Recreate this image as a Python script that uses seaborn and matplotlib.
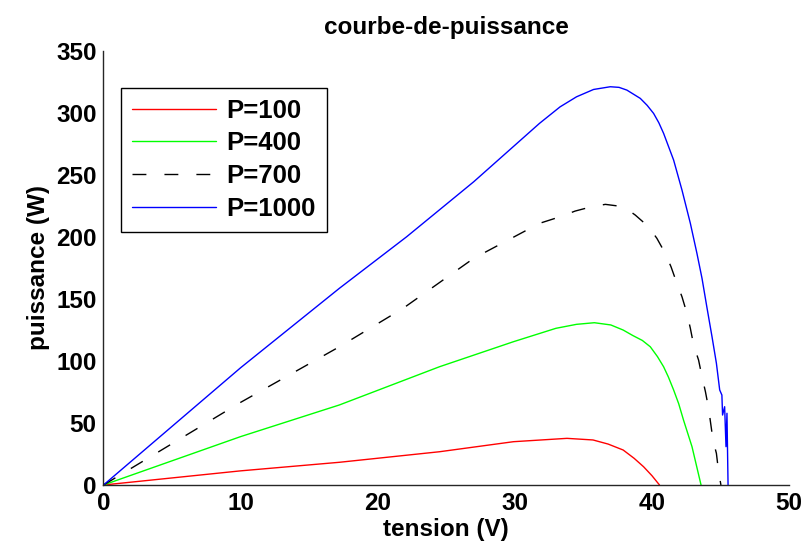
import matplotlib
matplotlib.use("Agg")
import matplotlib.pyplot as plt
import seaborn as sns
import pandas as pd

# values (tension V, puissance W)
v_100 = [0, 10, 17.2, 24.5, 29.9, 33.8, 35.7, 36.8, 37.9, 38.7, 39.39, 40.0, 40.55]
p_100 = [0, 11.4, 18.3, 26.8, 34.9, 37.6, 36.3, 33.0, 28.2, 21.5, 14.7, 7.5, 0]

v_400 = [0, 10, 17.2, 24.5, 29.9, 33.0, 34.5, 35.8, 37.0, 37.9, 38.6, 39.3, 39.88, 40.4, 40.85,
         41.2, 41.58, 41.95, 42.3, 42.6, 42.92, 43.58]
p_400 = [0, 39, 64.5, 95.3, 115.5, 126.3, 129.5, 130.8, 129.0, 124.9, 120.5, 116.5, 111.4, 103.5, 95.3,
         87.0, 76.6, 65.5, 52.4, 42.0, 30.9, 0]

v_700 = [0, 10, 17.2, 21.85, 27.0, 31.8, 33.3, 34.4, 35.5, 36.6, 37.93, 38.78, 39.75, 40.36, 40.97,
         41.39, 41.82, 42.19, 42.55, 42.8, 43.04, 43.4, 43.65, 43.9, 44.13, 44.45, 44.7, 44.86, 45.03]
p_700 = [0, 66.6, 111.4, 142.4, 182.7, 210.9, 216.2, 220.8, 224.0, 226.2, 224.3, 217.6, 208.2, 198.8, 186.7,
         175.9, 162.5, 151.7, 138.4, 126.3, 112.8, 100.7, 87.3, 75.2, 61.8, 36.3, 25.5, 10.7, 0]

v_1000 = [0, 10, 17.2, 22.1, 27.0, 31.8, 33.3, 34.5, 35.74, 36.96, 37.6, 38.17, 39.15, 39.65, 40.12, 40.5,
          40.85, 41.58, 42.19, 42.8, 43.28, 43.65, 44.0, 44.38, 44.7, 44.94, 45.1, 45.15, 45.3, 45.4,
          45.47, 45.55]
p_1000 = [0, 94.5, 158.5, 200, 244.4, 291.5, 304.8, 312.9, 318.8, 321, 320.5, 318.3, 311.6, 306.0, 299.5, 292.0,
          283.4, 261.9, 237.7, 210.9, 186.7, 166.6, 143.7, 119.5, 98.1, 76.6, 72.5, 56.4, 63.1, 30.9,
          57.8, 0]

labels = ["P=100", "P=400", "P=700", "P=1000"]
colors = ["#ff0000", "#00ff00", "#000000", "#0000ff"]
styles = ["-", "-", (0, (10, 13)), "-"]

x_ticks = [0, 10, 20, 30, 40, 50]
y_ticks = [0, 50, 100, 150, 200, 250, 300, 350]

sns.set_style("white")
plt.rcParams["font.family"] = ["Liberation Sans", "DejaVu Sans"]
plt.rcParams["font.weight"] = "bold"
plt.rcParams["text.color"] = "black"
plt.rcParams["axes.labelcolor"] = "black"
fs = 17.5

fig = plt.figure(figsize=(8.06, 5.56), dpi=100)
ax = fig.add_axes([0.1284, 0.1277, 0.8506, 0.781])

for v, p, label, color, ls in zip([v_100, v_400, v_700, v_1000],
                                  [p_100, p_400, p_700, p_1000],
                                  labels, colors, styles):
    df = pd.DataFrame({"tension": v, "puissance": p})
    sns.lineplot(data=df, x="tension", y="puissance", ax=ax, color=color,
                 linestyle=ls, linewidth=1.0, label=label,
                 estimator=None, sort=False)

ax.set_xlim(0, 50)
ax.set_ylim(0, 350)
ax.set_xticks(x_ticks)
ax.set_yticks(y_ticks)
ax.tick_params(direction="in", length=5, width=1, colors="#262626",
               labelcolor="black", labelsize=fs, pad=5)
for s in ["top", "right"]:
    ax.spines[s].set_visible(False)
for s in ["left", "bottom"]:
    ax.spines[s].set_color("#262626")
    ax.spines[s].set_linewidth(1.0)

ax.set_title("courbe-de-puissance", fontsize=fs, fontweight="bold", pad=12, color="black")
ax.set_xlabel("tension (V)", fontsize=fs, fontweight="bold", labelpad=2)
ax.set_ylabel("puissance (W)", fontsize=fs, fontweight="bold", labelpad=4)

leg = ax.legend(loc="upper left", bbox_to_anchor=(0.0255, 0.9153), borderaxespad=0,
                fontsize=18.5, frameon=True, fancybox=False, framealpha=1,
                edgecolor="black", handlelength=3.27, handletextpad=0.4,
                labelspacing=0.34, borderpad=0.43)
leg.get_frame().set_linewidth(1.0)
for t in leg.get_texts():
    t.set_fontweight("bold")
    t.set_color("black")

fig.savefig("out.png", dpi=100)
